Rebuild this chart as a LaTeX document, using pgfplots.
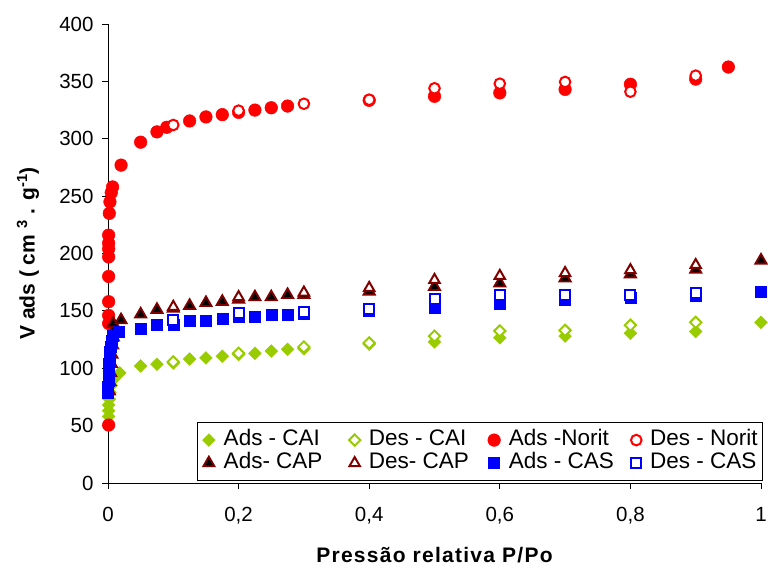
\documentclass[border=0pt]{standalone}
\usepackage{pgfplots}
\pgfplotsset{compat=1.18}
\usepackage{fontspec}
\setmainfont{Liberation Sans}
\definecolor{cgreen}{HTML}{99CC00}
\definecolor{cred}{HTML}{FF0000}
\definecolor{cdred}{HTML}{800000}
\definecolor{cblue}{HTML}{0000FF}
\begin{document}
\begin{tikzpicture}
\begin{axis}[
  scale only axis, width=653pt, height=459pt,
  xmin=0, xmax=1, ymin=0, ymax=400,
  axis x line*=bottom, axis y line*=left,
  axis line style={black, line width=0.8pt},
  xtick={0,0.2,0.4,0.6,0.8,1}, ytick={0,50,...,400},
  xticklabels={0,{0,2},{0,4},{0,6},{0,8},1},
  tick align=outside, major tick length=6pt,
  tick style={black, line width=0.8pt},
  /pgf/number format/assume math mode=true,
  tick label style={font=\fontsize{20.5}{24}\selectfont},
  xticklabel style={yshift=-15pt},
  yticklabel style={xshift=-5pt},
  xlabel={\addfontfeature{LetterSpace=6}Pressão relativa P/Po},
  xlabel style={font=\fontsize{21}{25}\bfseries, at={(axis description cs:0.5,0)}, anchor=base, yshift=-80pt},
  ylabel={V ads ( cm \textsuperscript{3} . g\textsuperscript{-1})},
  ylabel style={font=\fontsize{21}{25}\bfseries, at={([xshift=-80pt]axis description cs:0,0.5)}, anchor=center},
  clip=false,
  legend columns=4,
  legend cell align=left,
  legend style={at={(1,0)}, anchor=south east, xshift=2pt, yshift=2pt,
    draw=black, line width=0.8pt, inner xsep=5pt, inner ysep=6pt,
    font=\fontsize{22.5}{27}\selectfont,
    nodes={inner sep=0pt, text height=17pt, text depth=6pt},
    /tikz/every odd column/.style={column sep=8.5pt},
    /tikz/column 2/.style={column sep=26.5pt},
    /tikz/column 4/.style={column sep=19pt},
    /tikz/column 6/.style={column sep=17pt}},
]
\addplot[only marks, mark=square*, mark size=4.5pt, mark options={rotate=45, fill=cgreen, draw=cgreen, line width=0.5pt}] coordinates {
(0.001,58)(0.001,63)(0.001,68)(0.002,73)(0.003,79)(0.005,85)(0.008,90)(0.018,96)(0.05,102)(0.075,103.5)(0.1,104.5)(0.125,108)(0.15,109)(0.175,110.5)(0.2,112)(0.225,113)(0.25,115)(0.275,116.5)(0.3,117)(0.4,121)(0.5,123)(0.6,126.5)(0.7,128)(0.8,130.5)(0.9,132)(1.0,140)};
\addlegendentry{Ads - CAI}
\addplot[only marks, mark=square*, mark size=4pt, mark options={rotate=45, fill=white, draw=cgreen, line width=2pt}] coordinates {
(0.1,105.5)(0.2,113)(0.3,118.5)(0.4,122)(0.5,128)(0.6,132.5)(0.7,133)(0.8,137.5)(0.9,140)};
\addlegendentry{Des - CAI}
\addplot[only marks, mark=*, mark size=6.3pt, mark options={fill=cred, draw=cred, line width=0.5pt}] coordinates {
(0.001,50.5)(0.001,139)(0.001,146)(0.001,158)(0.001,180)(0.001,197)(0.001,204)(0.001,209)(0.001,216)(0.002,235)(0.003,245)(0.005,253)(0.007,258)(0.02,277)(0.05,297)(0.075,306)(0.09,310)(0.125,315.5)(0.15,319)(0.175,321)(0.2,323)(0.225,325)(0.25,327)(0.275,328.5)(0.4,333.5)(0.5,337)(0.6,340)(0.7,343)(0.8,347.5)(0.9,352)(0.95,362.5)};
\addlegendentry{Ads -Norit}
\addplot[only marks, mark=*, mark size=5.3pt, mark options={fill=white, draw=cred, line width=2pt}] coordinates {
(0.1,312)(0.2,324.5)(0.3,330.5)(0.4,334)(0.5,344)(0.6,348)(0.7,349.5)(0.8,341)(0.9,355)};
\addlegendentry{Des - Norit}
\addplot[only marks, mark=triangle*, mark size=6.5pt, mark options={fill=black, draw=cdred, line width=1.8pt}] coordinates {
(0.002,80)(0.003,88)(0.004,96)(0.005,104)(0.006,112)(0.007,120)(0.008,127)(0.01,134)(0.008,139)(0.02,142)(0.05,147)(0.075,151)(0.1,152)(0.125,154.5)(0.15,157)(0.175,158)(0.2,160)(0.225,162)(0.25,162)(0.275,164)(0.3,164)(0.4,167)(0.5,171)(0.6,174)(0.7,178.5)(0.8,182)(0.9,186)(1.0,194)};
\addlegendentry{Ads- CAP}
\addplot[only marks, mark=triangle*, mark size=6pt, mark options={fill=white, draw=cdred, line width=2pt}] coordinates {
(0.1,153.5)(0.2,162)(0.3,166)(0.4,170)(0.5,177)(0.6,180.5)(0.7,183)(0.8,185.5)(0.9,190)};
\addlegendentry{Des- CAP}
\addplot[only marks, mark=square*, mark size=5.5pt, mark options={fill=cblue, draw=cblue, line width=0.5pt}] coordinates {
(0.0,79)(0.0,84)(0.0005,89)(0.001,94)(0.001,99)(0.0015,104)(0.002,109)(0.003,114)(0.004,119)(0.006,124)(0.008,128)(0.017,131.5)(0.05,134)(0.075,137.5)(0.1,138)(0.125,141)(0.15,141)(0.175,143.5)(0.2,145)(0.225,145)(0.25,147)(0.275,147)(0.3,147.5)(0.4,150)(0.5,153)(0.6,156.5)(0.7,159.5)(0.8,161)(0.9,163.5)(1.0,167)};
\addlegendentry{Ads - CAS}
\addplot[only marks, mark=square*, mark size=5pt, mark options={fill=white, draw=cblue, line width=2pt}] coordinates {
(0.1,142)(0.2,148)(0.3,149)(0.4,152)(0.5,160)(0.6,164)(0.7,164)(0.8,164)(0.9,165.5)};
\addlegendentry{Des - CAS}
\end{axis}
\pgfresetboundingbox
\path[use as bounding box] ([xshift=-108pt,yshift=-88pt]current axis.south west) rectangle ([xshift=7pt,yshift=24pt]current axis.north east);
\end{tikzpicture}
\end{document}
